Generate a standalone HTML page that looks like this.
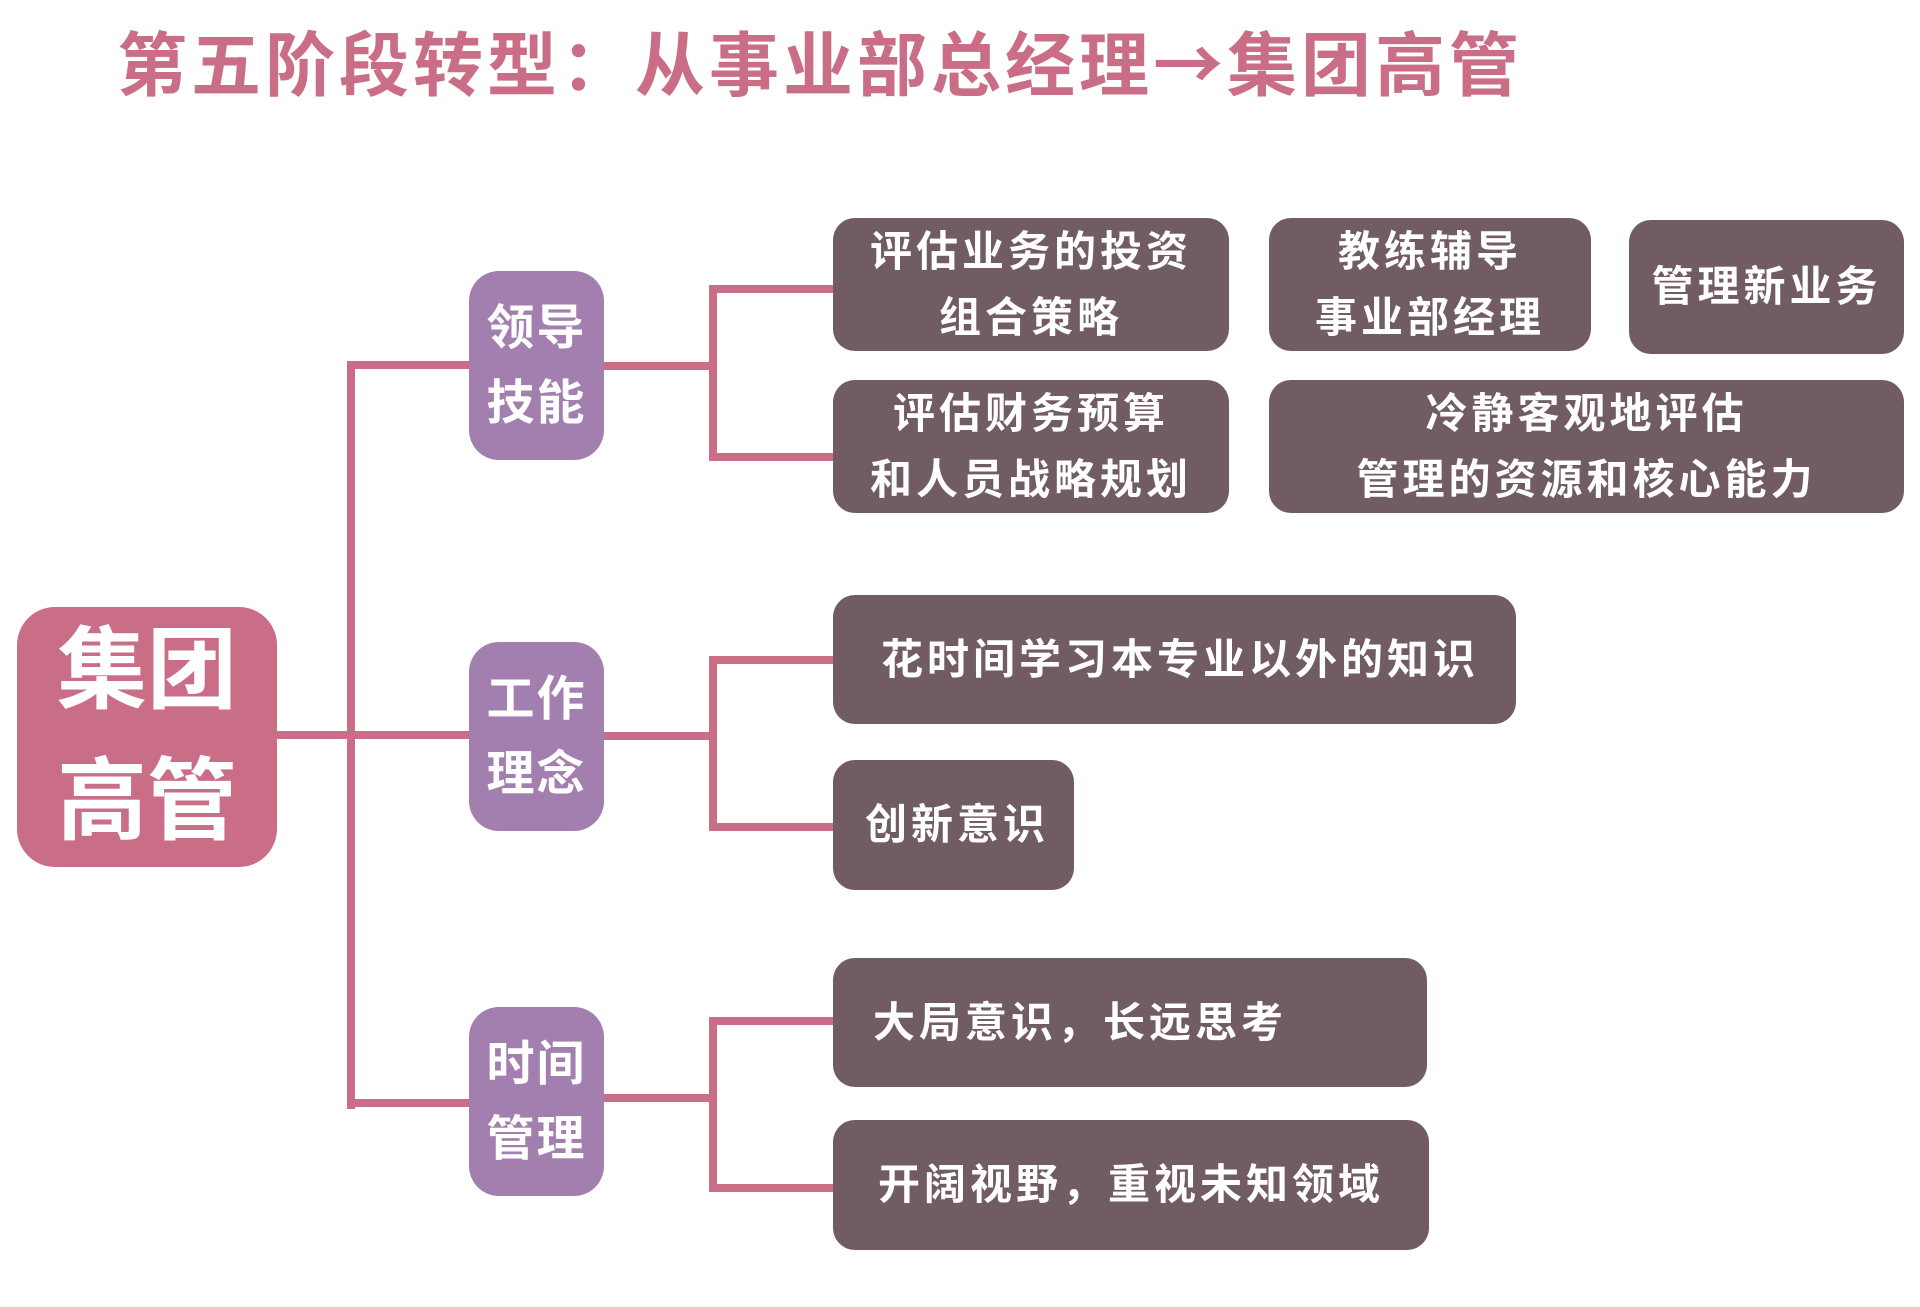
<!DOCTYPE html>
<html><head><meta charset="utf-8"><style>
body{margin:0;width:1920px;height:1307px;background:#fff;position:relative;overflow:hidden;font-family:"Liberation Sans","Noto Sans CJK SC",sans-serif;font-weight:bold}
.a{position:absolute}
.t{left:117px;top:16px;font-size:70px;color:#c96e86;letter-spacing:4px;white-space:nowrap;line-height:90px}
.root{left:17px;top:607px;width:260px;height:260px;background:#c96e86;border-radius:38px;color:#fff;font-size:90px;line-height:131px;text-align:center;display:flex;flex-direction:column;justify-content:center}
.l1{width:135px;height:189px;background:#a27fae;border-radius:30px;color:#fff;font-size:48px;line-height:75px;left:469px;display:flex;flex-direction:column;justify-content:center;text-align:center;letter-spacing:2px}
.lf{background:#715c62;border-radius:22px;color:#fff;font-size:42px;letter-spacing:4px;display:flex;flex-direction:column;justify-content:center;line-height:66px;white-space:nowrap}
.c{text-align:center;align-items:center}
.ln{background:#c96e86}
</style></head><body>
<div class="a t">第五阶段转型：从事业部总经理<span style="font-family:'Noto Sans CJK SC',sans-serif">→</span>集团高管</div>

<div class="a ln" style="left:277px;top:731px;width:192px;height:8px"></div>
<div class="a ln" style="left:347px;top:361px;width:8px;height:748px"></div>
<div class="a ln" style="left:347px;top:361px;width:122px;height:8px"></div>
<div class="a ln" style="left:347px;top:1099px;width:122px;height:8px"></div>

<div class="a ln" style="left:604px;top:362px;width:113px;height:8px"></div>
<div class="a ln" style="left:709px;top:285px;width:8px;height:176px"></div>
<div class="a ln" style="left:709px;top:285px;width:124px;height:8px"></div>
<div class="a ln" style="left:709px;top:453px;width:124px;height:8px"></div>

<div class="a ln" style="left:604px;top:732px;width:113px;height:8px"></div>
<div class="a ln" style="left:709px;top:656px;width:8px;height:175px"></div>
<div class="a ln" style="left:709px;top:656px;width:124px;height:8px"></div>
<div class="a ln" style="left:709px;top:823px;width:124px;height:8px"></div>

<div class="a ln" style="left:604px;top:1094px;width:113px;height:8px"></div>
<div class="a ln" style="left:709px;top:1017px;width:8px;height:175px"></div>
<div class="a ln" style="left:709px;top:1017px;width:124px;height:8px"></div>
<div class="a ln" style="left:709px;top:1184px;width:124px;height:8px"></div>

<div class="a root"><div>集团</div><div>高管</div></div>

<div class="a l1" style="top:271px"><div>领导</div><div>技能</div></div>
<div class="a l1" style="top:642px"><div>工作</div><div>理念</div></div>
<div class="a l1" style="top:1007px"><div>时间</div><div>管理</div></div>

<div class="a lf c" style="left:833px;top:218px;width:396px;height:133px"><div>评估业务的投资</div><div>组合策略</div></div>
<div class="a lf c" style="left:1269px;top:218px;width:322px;height:133px"><div>教练辅导</div><div>事业部经理</div></div>
<div class="a lf c" style="left:1629px;top:220px;width:275px;height:134px"><div>管理新业务</div></div>
<div class="a lf c" style="left:833px;top:380px;width:396px;height:133px"><div>评估财务预算</div><div>和人员战略规划</div></div>
<div class="a lf c" style="left:1269px;top:380px;width:635px;height:133px"><div>冷静客观地评估</div><div>管理的资源和核心能力</div></div>
<div class="a lf" style="left:833px;top:595px;height:129px;padding-left:48px;box-sizing:border-box;width:683px"><div>花时间学习本专业以外的知识</div></div>
<div class="a lf" style="left:833px;top:760px;width:241px;height:130px;padding-left:32px;box-sizing:border-box"><div>创新意识</div></div>
<div class="a lf" style="left:833px;top:958px;width:594px;height:129px;padding-left:40px;box-sizing:border-box"><div>大局意识，长远思考</div></div>
<div class="a lf" style="left:833px;top:1120px;width:596px;height:130px;padding-left:45px;box-sizing:border-box"><div>开阔视野，重视未知领域</div></div>
</body></html>
